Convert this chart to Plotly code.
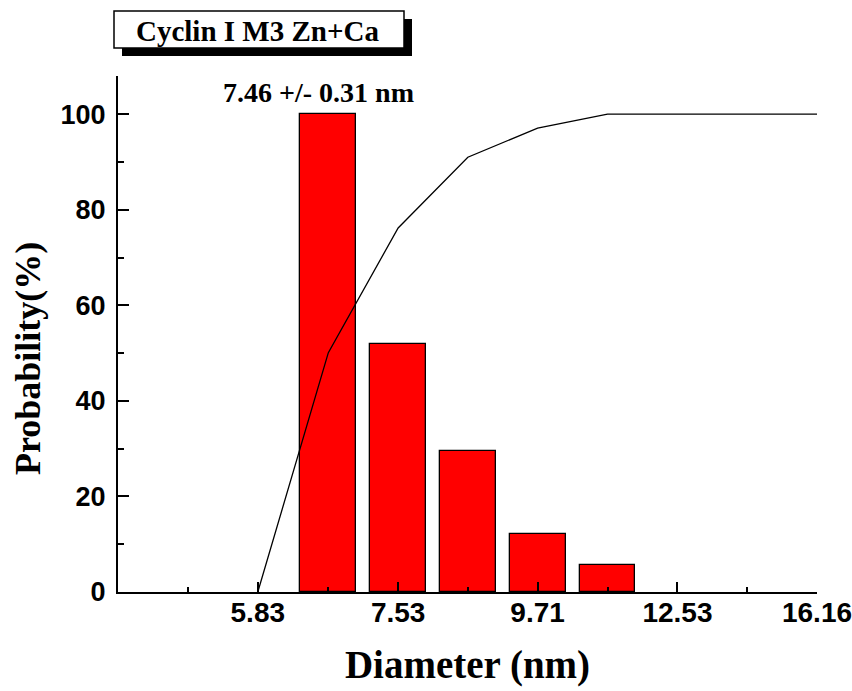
import numpy as np
import plotly.graph_objects as go

# Particle size histogram: bin centres (nm) and probability (%)
bin_diam = [6.63, 7.53, 8.55, 9.71, 11.03]
bin_prob = [100.0, 52.0, 29.6, 12.2, 5.7]

# Cumulative distribution curve (%)
cum_diam = [5.83, 6.63, 7.53, 8.55, 9.71, 11.03, 16.16]
cum_prob = [0.0, 50.1, 76.2, 91.0, 97.1, 100.0, 100.0]

# Axis labels
x_tick_labels = ["5.83", "7.53", "9.71", "12.53", "16.16"]
y_tick_values = [0, 20, 40, 60, 80, 100]

sample_name = "Cyclin I M3 Zn+Ca"
mean_text = "7.46 +/- 0.31 nm"

# The diameter axis is logarithmic: plot log10(d) on a linear axis
x_tick_pos = np.log10([float(t) for t in x_tick_labels])
step = float(np.mean(np.diff(x_tick_pos)))
x_min = x_tick_pos[0] - step
x_max = x_tick_pos[-1]
minor_pos = np.concatenate([[x_tick_pos[0] - step / 2], x_tick_pos[:-1] + step / 2])

SERIF = "Liberation Serif, Times New Roman, serif"
SANS = "Liberation Sans, Arial, sans-serif"

fig = go.Figure()
fig.add_trace(go.Bar(
    x=np.log10(bin_diam), y=bin_prob,
    width=0.8 * step / 2,
    marker=dict(color="#FF0000", line=dict(color="black", width=1.3)),
    showlegend=False,
))
fig.add_trace(go.Scatter(
    x=np.log10(cum_diam), y=cum_prob, mode="lines",
    line=dict(color="black", width=1.3),
    showlegend=False,
))

W, H = 852, 691
L, R, T, B = 118, 817, 76, 592
fig.update_layout(
    width=W, height=H,
    margin=dict(l=L, r=W - R, t=T, b=H - B, pad=0),
    paper_bgcolor="white", plot_bgcolor="white",
    bargap=0,
    xaxis=dict(
        range=[x_min, x_max + 1e-9], automargin=False,
        tickmode="array", tickvals=list(x_tick_pos), ticktext=x_tick_labels,
        ticks="inside", ticklen=10, tickwidth=2, tickcolor="black",
        minor=dict(tickmode="array", tickvals=list(minor_pos), ticks="inside",
                   ticklen=5, tickwidth=2, tickcolor="black"),
        showline=True, linecolor="black", linewidth=2,
        showgrid=False, zeroline=False,
        tickfont=dict(family=SANS, size=28, color="black", weight="bold"),
        ticklabeloverflow="allow",
        ticklabelstandoff=-6,
        title=dict(text="Diameter (nm)", standoff=24,
                   font=dict(family=SERIF, size=39, color="black", weight="bold")),
    ),
    yaxis=dict(
        range=[0, 108], automargin=False,
        tickmode="array", tickvals=y_tick_values,
        ticks="inside", ticklen=11, tickwidth=2, tickcolor="black",
        minor=dict(dtick=10, ticks="inside", ticklen=6, tickwidth=2, tickcolor="black"),
        showline=True, linecolor="black", linewidth=2,
        showgrid=False, zeroline=False,
        tickfont=dict(family=SANS, size=27, color="black", weight="bold"),
        ticklabelstandoff=5,
    ),
)


def px_x(p):
    return (p - L) / (R - L)


def px_y(p):
    return (B - p) / (B - T)


# Vertical axis title
fig.add_annotation(text="Probability(%)", xref="paper", yref="paper",
                   x=px_x(28), y=px_y(359), showarrow=False, textangle=-90,
                   xanchor="center", yanchor="middle",
                   font=dict(family=SERIF, size=36, color="black", weight="bold"))

# Sample name box with drop shadow
fig.add_shape(type="rect", xref="paper", yref="paper",
              x0=px_x(122), x1=px_x(412), y0=px_y(56), y1=px_y(19),
              fillcolor="black", line=dict(width=0), layer="above")
fig.add_shape(type="rect", xref="paper", yref="paper",
              x0=px_x(114), x1=px_x(404), y0=px_y(48), y1=px_y(11),
              fillcolor="white", line=dict(color="black", width=1.5), layer="above")
fig.add_annotation(text=sample_name, xref="paper", yref="paper",
                   x=px_x(257), y=px_y(31), showarrow=False,
                   xanchor="center", yanchor="middle",
                   font=dict(family=SERIF, size=29, color="black", weight="bold"))

# Mean size label
fig.add_annotation(text=mean_text, xref="paper", yref="paper",
                   x=px_x(318), y=px_y(93), showarrow=False,
                   xanchor="center", yanchor="middle",
                   font=dict(family=SERIF, size=28, color="black", weight="bold"))

fig.write_html("out.html")
